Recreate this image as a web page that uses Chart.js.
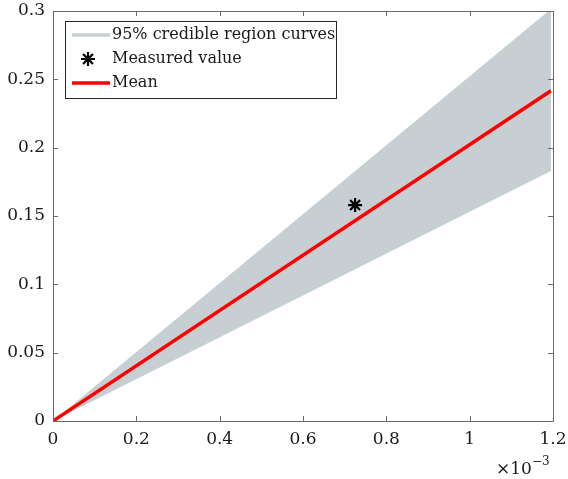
<!DOCTYPE html>
<html><head><meta charset="utf-8">
<script src="https://cdn.jsdelivr.net/npm/chart.js@4"></script>
<style>html,body{margin:0;padding:0;background:#fff}#c{display:block}</style>
</head><body>
<canvas id="c" width="568" height="479"></canvas>
<script>
// x values in units of 1e-3
const xEnds = [0, 1.195];
const meanY = [0, 0.2417];
const upperY = [0, 0.3015];
const lowerY = [0, 0.1830];
const measuredX = [0.725];
const measuredY = [0.158];
const xTicks = [0, 0.2, 0.4, 0.6, 0.8, 1, 1.2];
const yTicks = [0, 0.05, 0.1, 0.15, 0.2, 0.25, 0.3];
const legendLabels = ['95% credible region curves', 'Measured value', 'Mean'];

const FONT = '"DejaVu Serif", serif';
const TXT = '#1a1a1a';
const AX = '#6a6a6a';
const SHADE = 'rgb(200,207,211)';

const pts = (xs, ys) => xs.map((x, i) => ({x, y: ys[i]}));

const boxPlugin = {
  id: 'boxTicks',
  afterDatasetsDraw(chart) {
    const {ctx, chartArea: a, scales: {x, y}} = chart;
    ctx.save();
    ctx.strokeStyle = AX; ctx.lineWidth = 1;
    ctx.beginPath();
    ctx.rect(Math.round(a.left) + 0.5, Math.round(a.top) + 0.5, Math.round(a.right - a.left), Math.round(a.bottom - a.top));
    const tl = 5;
    xTicks.forEach(v => {
      const px = Math.round(x.getPixelForValue(v)) + 0.5;
      ctx.moveTo(px, a.bottom); ctx.lineTo(px, a.bottom - tl);
      ctx.moveTo(px, a.top); ctx.lineTo(px, a.top + tl);
    });
    yTicks.forEach(v => {
      const py = Math.round(y.getPixelForValue(v)) + 0.5;
      ctx.moveTo(a.left, py); ctx.lineTo(a.left + tl, py);
      ctx.moveTo(a.right, py); ctx.lineTo(a.right - tl, py);
    });
    ctx.stroke();

    // legend
    const lx = 65, ly = 21, lw = 271, lh = 77;
    ctx.fillStyle = '#fff';
    ctx.fillRect(lx, ly, lw, lh);
    ctx.strokeStyle = '#262626';
    ctx.strokeRect(lx + 0.5, ly + 0.5, lw, lh);
    const rows = [35, 59, 83];
    ctx.lineWidth = 3.5;
    ctx.strokeStyle = SHADE;
    ctx.beginPath(); ctx.moveTo(72, rows[0]); ctx.lineTo(110, rows[0]); ctx.stroke();
    ctx.strokeStyle = '#ff0000';
    ctx.beginPath(); ctx.moveTo(72, rows[2]); ctx.lineTo(110, rows[2]); ctx.stroke();
    // star
    ctx.strokeStyle = '#000'; ctx.lineWidth = 2.2;
    const sx = 88, sy = rows[1], r = 7;
    ctx.beginPath();
    for (let k = 0; k < 4; k++) {
      const ang = k * Math.PI / 4;
      ctx.moveTo(sx - r * Math.cos(ang), sy - r * Math.sin(ang));
      ctx.lineTo(sx + r * Math.cos(ang), sy + r * Math.sin(ang));
    }
    ctx.stroke();
    ctx.fillStyle = TXT;
    ctx.font = '16px ' + FONT;
    ctx.textBaseline = 'middle'; ctx.textAlign = 'left';
    legendLabels.forEach((t, i) => ctx.fillText(t, 112, rows[i]));

    // exponent label
    ctx.textBaseline = 'alphabetic';
    ctx.font = '17px ' + FONT;
    ctx.textAlign = 'left';
    ctx.fillText('\u00d710', 496, 474);
    const w = ctx.measureText('\u00d710').width;
    ctx.font = '12px ' + FONT;
    ctx.fillText('\u22123', 496 + w, 465);
    ctx.restore();
  }
};

new Chart(document.getElementById('c'), {
  type: 'scatter',
  data: {
    datasets: [
      {label: 'lower', data: pts(xEnds, lowerY), showLine: true, borderWidth: 0, borderColor: SHADE, pointRadius: 0, fill: false, order: 3},
      {label: 'upper', data: pts(xEnds, upperY), showLine: true, borderWidth: 0, borderColor: SHADE, backgroundColor: SHADE, pointRadius: 0, fill: 0, order: 2},
      {label: 'Mean', data: pts(xEnds, meanY), showLine: true, borderWidth: 3.5, borderColor: '#ff0000', pointRadius: 0, fill: false, order: 1},
      {label: 'Measured value', data: pts(measuredX, measuredY), showLine: false, pointStyle: 'star', pointRadius: 7, borderWidth: 2.2, borderColor: '#000', backgroundColor: '#000', order: 0}
    ]
  },
  options: {
    responsive: false, animation: false, devicePixelRatio: 1,
    layout: {padding: {top: 11, right: 15, left: 0, bottom: 0}},
    plugins: {legend: {display: false}, tooltip: {enabled: false}},
    scales: {
      x: {
        type: 'linear', min: 0, max: 1.2,
        afterFit: s => { s.height = 58; s.paddingLeft = 0; s.paddingRight = 0; },
        afterBuildTicks: s => { s.ticks = xTicks.map(v => ({value: v})); },
        grid: {display: false, drawTicks: false},
        border: {display: false},
        ticks: {color: TXT, font: {family: FONT, size: 17}, padding: 8, maxRotation: 0,
          callback: v => String(v)}
      },
      y: {
        type: 'linear', min: 0, max: 0.3,
        afterFit: s => { s.width = 53; s.paddingTop = 0; s.paddingBottom = 0; },
        afterBuildTicks: s => { s.ticks = yTicks.map(v => ({value: v})); },
        grid: {display: false, drawTicks: false},
        border: {display: false},
        ticks: {color: TXT, font: {family: FONT, size: 17}, padding: 8,
          callback: v => String(v)}
      }
    }
  },
  plugins: [boxPlugin]
});
</script>
</body></html>
